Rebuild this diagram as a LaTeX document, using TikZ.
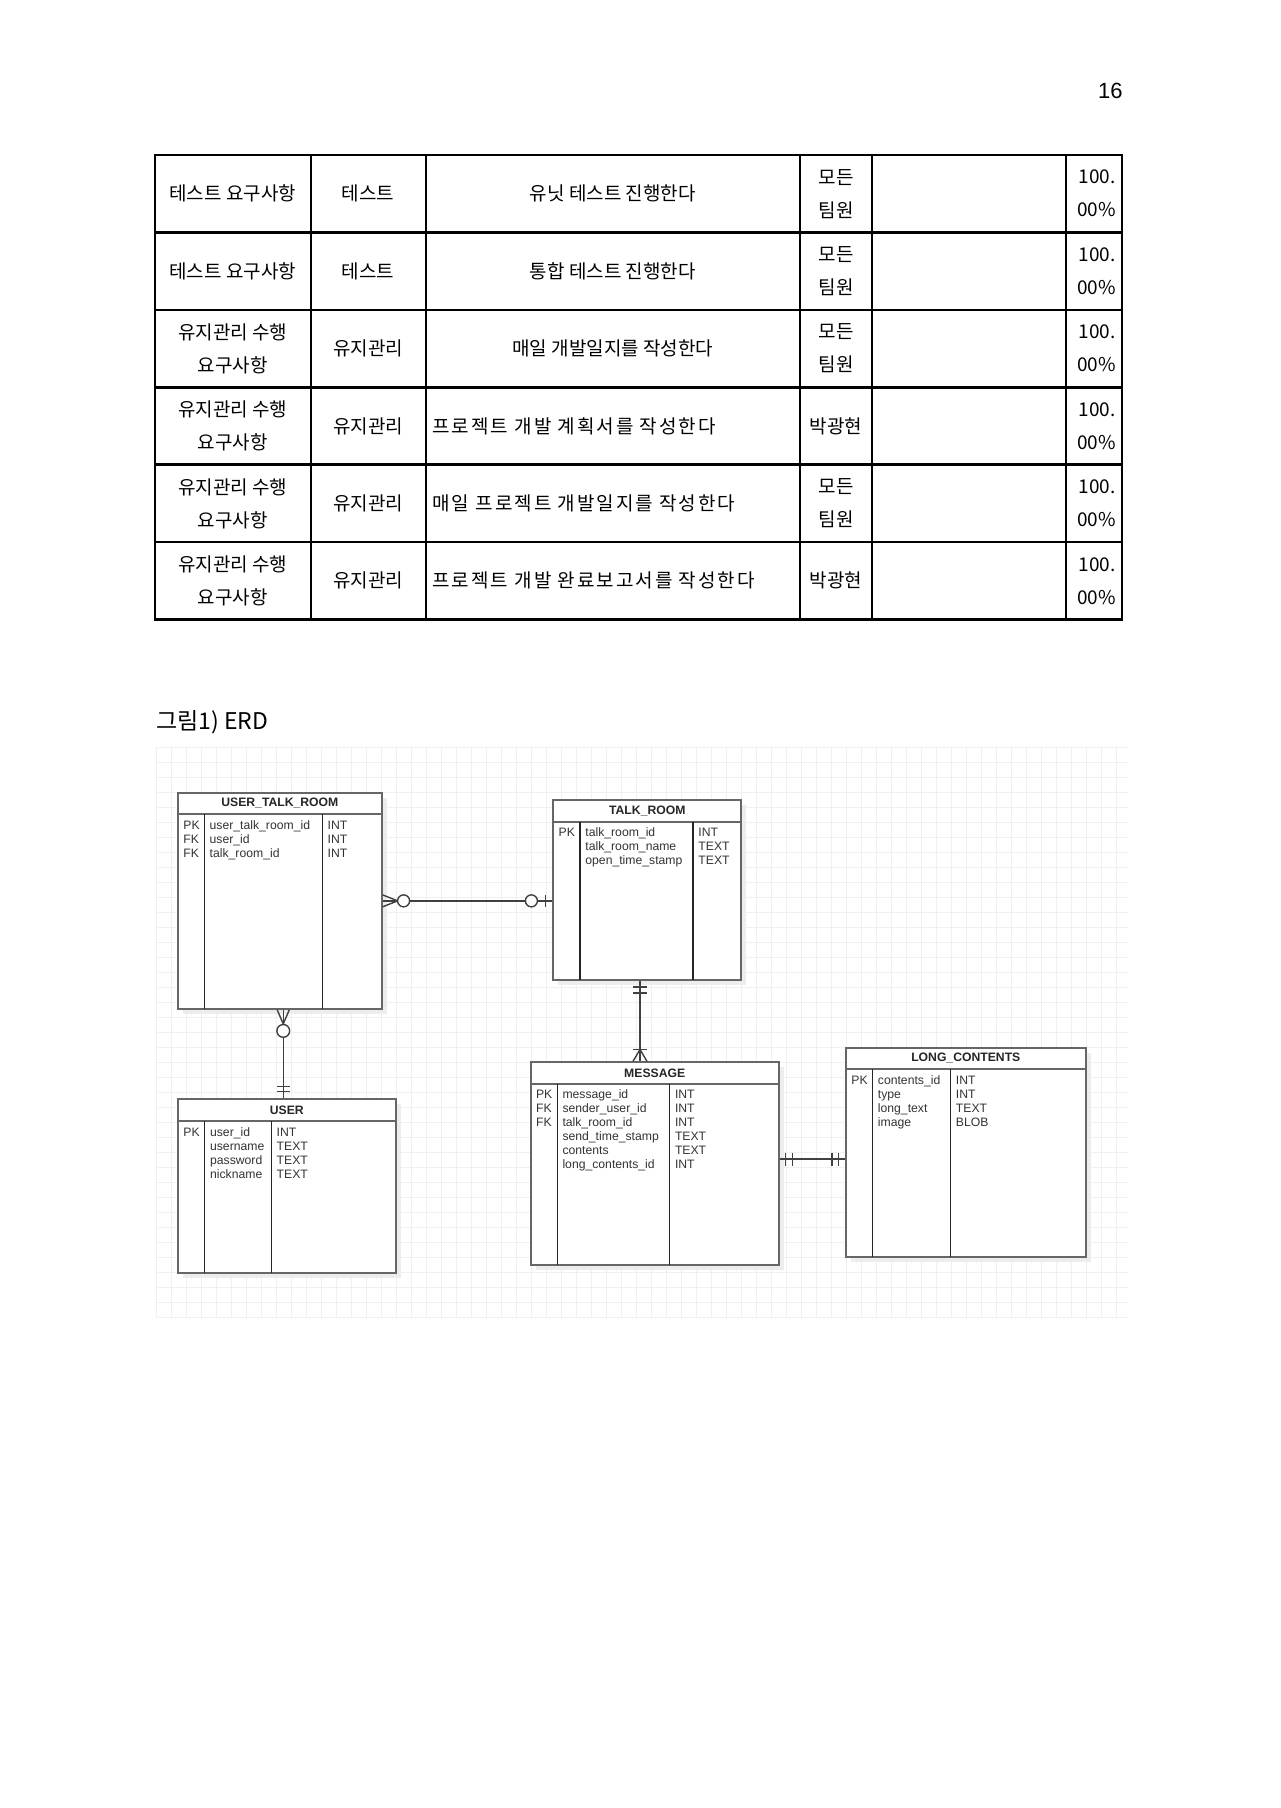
\documentclass[tikz,border=0pt]{standalone}
\usepackage{fontspec}
\setmainfont{Liberation Sans}
\newfontfamily\kr{Noto Sans CJK KR}
\newfontfamily\krwide{Noto Sans CJK KR}[LetterSpace=10.5]
\usetikzlibrary{calc,fit}

\tikzset{
  tabline/.style={line width=1.1pt,black,line cap=rect},
  cell/.style={font=\kr\fontsize{9.5}{16.5}\selectfont,align=center,inner sep=0pt},
  gridline/.style={black!6,line width=0.7pt},
  entbox/.style={draw=black!60,line width=0.9pt,inner sep=0pt},
  entsep/.style={black!85,line width=0.6pt},
  field/.style={font=\fontsize{6.1}{7}\selectfont,text=black!80,anchor=base west,inner sep=0pt},
  enttitle/.style={font=\bfseries\fontsize{6.1}{7}\selectfont,text=black!85,inner sep=0pt},
  rel/.style={black!75,line width=0.7pt},
}

\begin{document}
\begin{tikzpicture}[x=0.5pt,y=-0.5pt]
	\useasboundingbox (0,0) rectangle (1280,1808);
	
	% Page number
	\node[font=\fontsize{11}{13}\selectfont,anchor=east,inner sep=0pt] (pageno) at (1123,91) {16};
	
	% Requirement table: rules
	\foreach \ty in {155,232.5,310,387.5,464.5,542,619.5}
		\draw[tabline] (155,\ty) -- (1122,\ty);
	\foreach \tx in {155,310.6,425.6,800,872,1065.6,1122}
		\draw[tabline] (\tx,155) -- (\tx,619.5);
	
	% Requirement table: cells
	\foreach \ry/\req/\cat/\who [count=\r] in {
		193.7/테스트 요구사항/테스트/모든\\팀원,
		271.2/테스트 요구사항/테스트/모든\\팀원,
		348.6/유지관리 수행\\요구사항/유지관리/모든\\팀원,
		426/유지관리 수행\\요구사항/유지관리/박광현,
		503.4/유지관리 수행\\요구사항/유지관리/모든\\팀원,
		580.8/유지관리 수행\\요구사항/유지관리/박광현} {
		\node[cell] (req\r) at (232.8,\ry) {\req};
		\node[cell] (cat\r) at (368,\ry) {\cat};
		\node[cell] (who\r) at (836,\ry) {\who};
		\node[cell,align=right,anchor=east] (pct\r) at (1116,\ry) {100.\\00\%};
	}
	\foreach \ry/\task [count=\r] in {193.7/유닛 테스트 진행한다,
		271.2/통합 테스트 진행한다, 348.6/매일 개발일지를 작성한다}
		\node[cell] (task\r) at (612.8,\ry) {\task};
	\foreach \ry/\task [count=\r from 4] in {426/프로젝트 개발 계획서를 작성한다,
		503.4/매일 프로젝트 개발일지를 작성한다, 580.8/프로젝트 개발 완료보고서를 작성한다}
		\node[cell,font=\krwide\fontsize{9.5}{16.5}\selectfont,anchor=west] (task\r) at (432,\ry) {\task};
	
	% Figure caption
	\node[font=\kr\fontsize{11.5}{13}\selectfont,anchor=west,inner sep=0pt] (figcap) at (155.7,722) {그림1) ERD};
	
	% Diagram grid
	\foreach \gx in {156.7,171.7,...,1128}
		\draw[gridline] (\gx,747.3) -- (\gx,1318);
	\foreach \gy in {747.3,762.3,...,1318}
		\draw[gridline] (156.7,\gy) -- (1128,\gy);
	
	% Entities
	\foreach \id/\xa/\ya/\xb/\yb/\yh/\ca/\cb/\title/\keys/\names/\types in {
		utr/178/792.7/381.7/1009/814/204.3/322.3/USER\_TALK\_ROOM/{PK,FK,FK}/{user\_talk\_room\_id,user\_id,talk\_room\_id}/{INT,INT,INT},
		tr/553.3/800/741.3/980/821.7/580/693/TALK\_ROOM/{PK}/{talk\_room\_id,talk\_room\_name,open\_time\_stamp}/{INT,TEXT,TEXT},
		user/178/1099.3/395.7/1272.7/1121.3/204.7/271.3/USER/{PK}/{user\_id,username,password,nickname}/{INT,TEXT,TEXT,TEXT},
		msg/530.7/1062.3/778.7/1265/1083.7/557.1/669.6/MESSAGE/{PK,FK,FK}/{message\_id,sender\_user\_id,talk\_room\_id,send\_time\_stamp,contents,long\_contents\_id}/{INT,INT,INT,TEXT,TEXT,INT},
		lc/846/1047.7/1085.6/1256.7/1069/872.5/950.5/LONG\_CONTENTS/{PK}/{contents\_id,type,long\_text,image}/{INT,INT,TEXT,BLOB}} {
		\fill[black!7] (\xa+5,\ya+5) rectangle (\xb+5,\yb+5);
		\node[entbox,fill=white,fit={(\xa,\ya) (\xb,\yb)}] (\id) {};
		\draw[draw=black!60,line width=0.9pt] (\xa,\yh) -- (\xb,\yh);
		\draw[entsep] (\ca,\yh) -- (\ca,\yb);
		\draw[entsep] (\cb,\yh) -- (\cb,\yb);
		\node[enttitle] (\id-t) at ({(\xa+\xb)/2},{(\ya+\yh)/2}) {\title};
		\foreach \k [count=\i] in \keys
			\node[field] (\id-k\i) at (\xa+5,{\yh+15+14*(\i-1)}) {\k};
		\foreach \n [count=\i] in \names
			\node[field] (\id-n\i) at (\ca+5,{\yh+15+14*(\i-1)}) {\n};
		\foreach \t [count=\i] in \types
			\node[field] (\id-y\i) at (\cb+5,{\yh+15+14*(\i-1)}) {\t};
	}
	
	% USER_TALK_ROOM >o----o| TALK_ROOM
	\coordinate (r1a) at (utr.east);
	\coordinate (r1b) at (utr.east -| tr.west);
	\draw[rel] (r1a) -- (r1b);
	\draw[rel] ($(r1a)+(0,-6)$) -- ($(r1a)+(15,0)$) -- ($(r1a)+(0,6)$);
	\draw[rel,fill=white] ($(r1a)+(21,0)$) circle[radius=3pt];
	\draw[rel,fill=white] ($(r1b)+(-21,0)$) circle[radius=3pt];
	\draw[rel] ($(r1b)+(-7,-6)$) -- ($(r1b)+(-7,6)$);
	
	% USER_TALK_ROOM >o----|| USER
	\coordinate (r2a) at ($(utr.south)+(3.4,0)$);
	\coordinate (r2b) at (r2a |- user.north);
	\draw[rel] (r2a) -- (r2b);
	\draw[rel] ($(r2a)+(-6,0)$) -- ($(r2a)+(0,14)$) -- ($(r2a)+(6,0)$);
	\draw[rel,fill=white] ($(r2a)+(0,21)$) circle[radius=3.2pt];
	\draw[rel] ($(r2b)+(-6.5,-12)$) -- ($(r2b)+(6.5,-12)$);
	\draw[rel] ($(r2b)+(-6.5,-7)$) -- ($(r2b)+(6.5,-7)$);
	
	% TALK_ROOM ||----|< MESSAGE
	\coordinate (r3a) at ($(tr.south)+(-7.3,0)$);
	\coordinate (r3b) at (r3a |- msg.north);
	\draw[rel] (r3a) -- (r3b);
	\draw[rel] ($(r3a)+(-7,6)$) -- ($(r3a)+(7,6)$);
	\draw[rel] ($(r3a)+(-7,12)$) -- ($(r3a)+(7,12)$);
	\draw[rel] ($(r3b)+(-7,-12)$) -- ($(r3b)+(7,-12)$);
	\draw[rel] ($(r3b)+(-7,0)$) -- ($(r3b)+(0,-12)$) -- ($(r3b)+(7,0)$);
	
	% MESSAGE ||----|| LONG_CONTENTS
	\coordinate (r4a) at ($(msg.east)+(0,-4.6)$);
	\coordinate (r4b) at (r4a -| lc.west);
	\draw[rel] (r4a) -- (r4b);
	\foreach \dx in {6,13}
		\draw[rel] ($(r4a)+(\dx,-6.5)$) -- ($(r4a)+(\dx,6.5)$);
	\foreach \dx in {-13,-6.5}
		\draw[rel] ($(r4b)+(\dx,-6.5)$) -- ($(r4b)+(\dx,6.5)$);
\end{tikzpicture}
\end{document}
